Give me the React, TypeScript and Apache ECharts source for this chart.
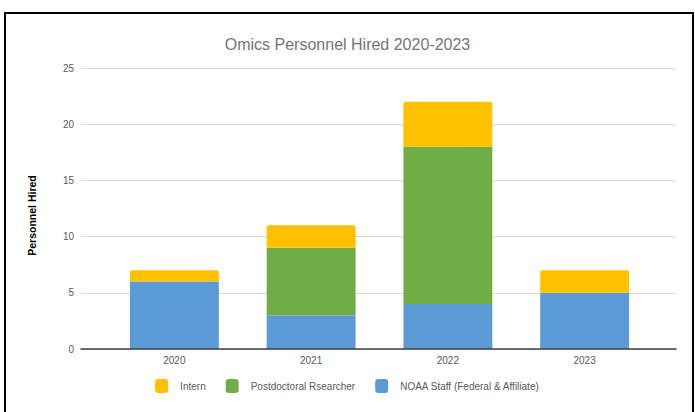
import React, { useEffect, useRef } from "react";
import * as echarts from "echarts";

const years = ["2020", "2021", "2022", "2023"];
const noaaStaff = [6, 3, 4, 5];
const postdoc = [0, 6, 14, 0];
const intern = [1, 2, 4, 2];
const yMax = 25;
const yStep = 5;

export default function App() {
  const ref = useRef<HTMLDivElement>(null);
  useEffect(() => {
    if (!ref.current) return;
    const chart = echarts.init(ref.current, null, { renderer: "svg" });
    const font = "'Liberation Sans', Arial, sans-serif";
    chart.setOption({
      animation: false,
      backgroundColor: "#ffffff",
      title: {
        text: "Omics Personnel Hired 2020-2023",
        left: "center",
        top: 31,
        textStyle: { color: "#757575", fontSize: 16, fontWeight: "normal", fontFamily: font },
      },
      grid: [
        { left: 81, right: 19, top: 68, bottom: 63 },
        { left: 106, right: 42, top: 68, bottom: 63 },
      ],
      legend: {
        bottom: 14,
        left: "center",
        itemWidth: 13,
        itemHeight: 14,
        itemGap: 20,
        icon: "roundRect",
        data: ["Intern", "Postdoctoral Rsearcher", "NOAA Staff (Federal & Affiliate)"],
        textStyle: { color: "#595959", fontSize: 10, fontFamily: font, padding: [0, 0, 0, 7] },
      },
      xAxis: [
        {
          type: "category",
          gridIndex: 0,
          data: years,
          axisTick: { show: false },
          axisLabel: { show: false },
          axisLine: { lineStyle: { color: "#404040", width: 1.5 } },
          z: 5,
        },
        {
          type: "category",
          gridIndex: 1,
          data: years,
          axisTick: { show: false },
          axisLine: { show: false },
          axisLabel: { color: "#595959", fontSize: 10, fontFamily: font, margin: 6 },
        },
      ],
      yAxis: [
        {
          type: "value",
          gridIndex: 0,
          min: 0,
          max: yMax,
          interval: yStep,
          name: "Personnel Hired",
          nameLocation: "middle",
          nameGap: 44,
          nameTextStyle: {
            color: "#000000",
            fontSize: 10.5,
            fontWeight: "bold",
            fontFamily: font,
            padding: [0, 14, 0, 0],
          },
          axisLabel: { color: "#595959", fontSize: 10, fontFamily: font, margin: 7 },
          splitLine: { lineStyle: { color: "#d9d9d9", width: 1 } },
        },
        {
          type: "value",
          gridIndex: 1,
          min: 0,
          max: yMax,
          interval: yStep,
          show: false,
          splitLine: { show: false },
        },
      ],
      series: [
        {
          name: "NOAA Staff (Federal & Affiliate)",
          type: "bar",
          xAxisIndex: 1,
          yAxisIndex: 1,
          stack: "total",
          barWidth: "65%",
          data: noaaStaff,
          itemStyle: { color: "#5B9BD5" },
        },
        {
          name: "Postdoctoral Rsearcher",
          type: "bar",
          xAxisIndex: 1,
          yAxisIndex: 1,
          stack: "total",
          data: postdoc,
          itemStyle: { color: "#70AD47" },
        },
        {
          name: "Intern",
          type: "bar",
          xAxisIndex: 1,
          yAxisIndex: 1,
          stack: "total",
          data: intern,
          itemStyle: { color: "#FFC000", borderRadius: [2, 2, 0, 0] },
        },
      ],
      graphic: [
        {
          type: "rect",
          shape: { x: 5, y: 13, width: 688, height: 420 },
          style: { fill: "none", stroke: "#000000", lineWidth: 2 },
          silent: true,
        },
      ],
    });
    return () => chart.dispose();
  }, []);
  return (
    <div
      ref={ref}
      style={{ position: "fixed", left: 0, top: 0, width: 695, height: 412 }}
    />
  );
}
